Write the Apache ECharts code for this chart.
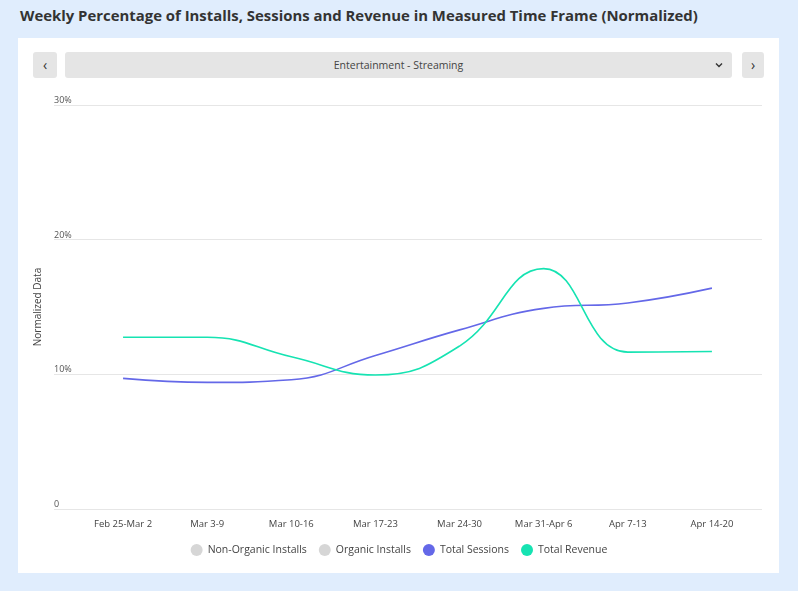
<!DOCTYPE html>
<html>
<head>
<meta charset="utf-8">
<script src="https://cdn.jsdelivr.net/npm/echarts@6/dist/echarts.min.js"></script>
<style>
  html,body{margin:0;padding:0;width:798px;height:591px;background:#e0edfd;overflow:hidden;font-family:"Open Sans",Lato,sans-serif;}
  #title{position:absolute;left:20px;top:5px;font-size:14.9px;font-weight:bold;color:#333;font-family:"Open Sans",Lato,sans-serif;}
  #panel{position:absolute;left:18px;top:38px;width:761px;height:535px;background:#fff;}
  .btn{position:absolute;top:52px;height:26px;background:#e5e5e5;border-radius:3px;color:#333;font-size:14px;line-height:25px;text-align:center;}
  #chart{position:absolute;left:0;top:0;width:798px;height:591px;}
</style>
</head>
<body>
<div id="title">Weekly Percentage of Installs, Sessions and Revenue in Measured Time Frame (Normalized)</div>
<div id="panel"></div>
<div class="btn" style="left:33px;width:24px;">&#8249;</div>
<div class="btn" style="left:65px;width:667px;font-size:10.5px;color:#444;line-height:26px;">Entertainment - Streaming<svg style="position:absolute;right:9px;top:10px;" width="8" height="6" viewBox="0 0 8 6"><path d="M1 1.5 L4 4.5 L7 1.5" fill="none" stroke="#333" stroke-width="1.4"/></svg></div>
<div class="btn" style="left:742px;width:22px;">&#8250;</div>
<div id="chart"></div>
<script>
const categories = ["Feb 25-Mar 2","Mar 3-9","Mar 10-16","Mar 17-23","Mar 24-30","Mar 31-Apr 6","Apr 7-13","Apr 14-20"];
const nonOrganicInstalls = [];
const organicInstalls = [];
const totalSessions = [9.7, 9.4, 9.6, 11.4, 13.3, 14.9, 15.3, 16.4];
const totalRevenue = [12.75, 12.75, 11.3, 9.95, 12.1, 17.85, 11.65, 11.7];
const yTicks = [0, 10, 20, 30];

const chart = echarts.init(document.getElementById('chart'), null, {renderer:'canvas'});
const fontFamily = '"Open Sans", Lato, sans-serif';
chart.setOption({
  animation:false,
  textStyle:{fontFamily:fontFamily},
  grid:[
    {left:81, right:44, top:105, bottom:82},
    {left:54, right:36, top:105, bottom:82}
  ],
  xAxis:[
    {type:'category', gridIndex:0, data:categories, boundaryGap:true,
     axisLine:{show:false}, axisTick:{show:false},
     axisLabel:{color:'#444', fontSize:9.5, margin:10, interval:0}},
    {type:'category', gridIndex:1, data:[''], show:false}
  ],
  yAxis:[
    {type:'value', gridIndex:0, min:yTicks[0], max:yTicks[yTicks.length-1], interval:10, show:false, splitLine:{show:false}},
    {type:'value', gridIndex:1, min:yTicks[0], max:yTicks[yTicks.length-1], interval:10,
     name:'Normalized Data', nameLocation:'middle', nameGap:9, nameRotate:90,
     nameTextStyle:{color:'#444', fontSize:10},
     axisLine:{show:false}, axisTick:{show:false},
     axisLabel:{inside:true, verticalAlign:'bottom', margin:0, color:'#555', fontSize:9, padding:[0,0,0,0],
       formatter:function(v){return v===0?'0':v+'%';}},
     splitLine:{lineStyle:{color:'#e6e6e6', width:1}}}
  ],
  legend:{
    bottom:30, left:'center', itemWidth:12, itemHeight:12, itemGap:12, icon:'circle',
    textStyle:{color:'#444', fontSize:10.5},
    data:['Non-Organic Installs','Organic Installs','Total Sessions','Total Revenue']
  },
  series:[
    {name:'Non-Organic Installs', type:'line', data:nonOrganicInstalls, itemStyle:{color:'#d6d6d6'}},
    {name:'Organic Installs', type:'line', data:organicInstalls, itemStyle:{color:'#d6d6d6'}},
    {name:'Total Sessions', type:'line', data:totalSessions, smooth:0.45, showSymbol:false,
     itemStyle:{color:'#6468e8'}, lineStyle:{color:'#6468e8', width:1.6}},
    {name:'Total Revenue', type:'line', data:totalRevenue, smooth:0.45, showSymbol:false,
     itemStyle:{color:'#16e3b2'}, lineStyle:{color:'#16e3b2', width:1.6}}
  ]
});
</script>
</body>
</html>
